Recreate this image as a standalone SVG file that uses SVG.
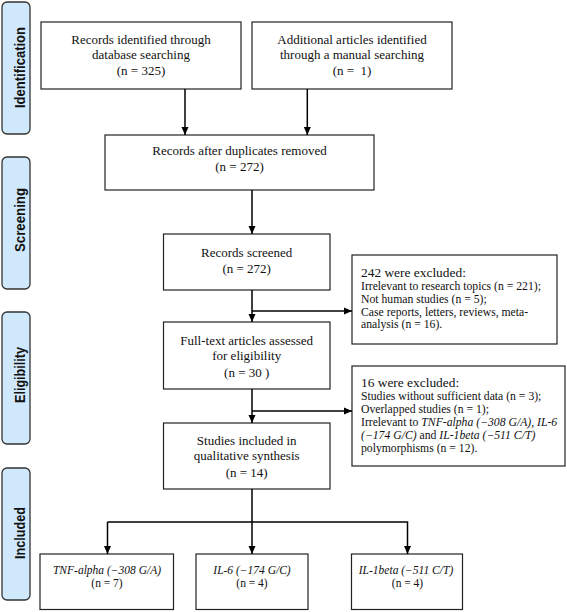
<svg xmlns="http://www.w3.org/2000/svg" width="567" height="612" viewBox="0 0 567 612">
<defs>
<marker id="ah" markerWidth="8" markerHeight="8" viewBox="0 0 8 8" refX="8" refY="4" orient="auto" markerUnits="userSpaceOnUse">
<path d="M0,0.5 L8,4 L0,7.5 Z" fill="#000"/>
</marker>
<style>
.box{fill:#fff;stroke:#222;stroke-width:1.2}
.side{fill:#cfe8fb;stroke:#333;stroke-width:1.3}
.sl{font-family:"Liberation Sans",Arial,sans-serif;font-weight:bold;font-size:15.5px;fill:#111;text-anchor:middle}
.t{font-family:"Liberation Serif","Times New Roman",serif;font-size:13px;fill:#111;text-anchor:middle}
.s{font-family:"Liberation Serif","Times New Roman",serif;font-size:11.7px;fill:#111}
.h{font-family:"Liberation Serif","Times New Roman",serif;font-size:13.4px;fill:#111}
.b{font-family:"Liberation Serif","Times New Roman",serif;font-size:11.5px;fill:#111;text-anchor:middle}
.c{fill:none;stroke:#000;stroke-width:1.5}
</style>
</defs>
<g id="stage-identification"><rect class="side" x="2" y="2" width="28" height="132" rx="5"/><text class="sl" transform="translate(24.5,67.5) rotate(-90)" textLength="81" lengthAdjust="spacingAndGlyphs">Identification</text></g>
<g id="stage-screening"><rect class="side" x="2" y="157" width="28" height="132" rx="5"/><text class="sl" transform="translate(24.5,220) rotate(-90)" textLength="64" lengthAdjust="spacingAndGlyphs">Screening</text></g>
<g id="stage-eligibility"><rect class="side" x="2" y="312" width="28" height="132" rx="5"/><text class="sl" transform="translate(24.5,375) rotate(-90)" textLength="56" lengthAdjust="spacingAndGlyphs">Eligibility</text></g>
<g id="stage-included"><rect class="side" x="2" y="468" width="28" height="132" rx="5"/><text class="sl" transform="translate(24.5,533) rotate(-90)" textLength="52" lengthAdjust="spacingAndGlyphs">Included</text></g>

<g id="n-database"><rect class="box" x="41" y="22" width="200" height="67"/>
<text class="t" x="141" y="43.5">Records identified through</text>
<text class="t" x="141" y="58.5">database searching</text>
<text class="t" x="141" y="75">(n = 325)</text></g>
<g id="n-manual"><rect class="box" x="252" y="22" width="200" height="67"/>
<text class="t" x="352" y="43.5">Additional articles identified</text>
<text class="t" x="352" y="58.5">through a manual searching</text>
<text class="t" x="352" y="75" xml:space="preserve">(n =  1)</text></g>
<g id="n-duplicates"><rect class="box" x="105" y="135" width="269" height="55"/>
<text class="t" x="239.5" y="155">Records after duplicates removed</text>
<text class="t" x="239.5" y="171">(n = 272)</text></g>
<g id="n-screened"><rect class="box" x="163.5" y="234" width="166.5" height="56"/>
<text class="t" x="246.7" y="256.5">Records screened</text>
<text class="t" x="246.7" y="273">(n = 272)</text></g>
<g id="n-excluded1"><rect class="box" x="352" y="255" width="205" height="89"/>
<text class="h" x="361" y="276.5">242 were excluded:</text>
<text class="s" x="361" y="289.5">Irrelevant to research topics (n = 221);</text>
<text class="s" x="361" y="302.5">Not human studies (n = 5);</text>
<text class="s" x="361" y="315.5">Case reports, letters, reviews, meta-</text>
<text class="s" x="361" y="328">analysis (n = 16).</text></g>
<g id="n-fulltext"><rect class="box" x="163.5" y="322" width="166.5" height="67"/>
<text class="t" x="246.7" y="344.5">Full-text articles assessed</text>
<text class="t" x="246.7" y="359.5">for eligibility</text>
<text class="t" x="246.7" y="377">(n = 30 )</text></g>
<g id="n-excluded2"><rect class="box" x="352" y="366" width="213" height="100"/>
<text class="h" x="361" y="387">16 were excluded:</text>
<text class="s" x="361" y="399.5">Studies without sufficient data (n = 3);</text>
<text class="s" x="361" y="413">Overlapped studies (n = 1);</text>
<text class="s" x="361" y="425.5">Irrelevant to <tspan font-style="italic">TNF-alpha (−308 G/A)</tspan>, <tspan font-style="italic">IL-6</tspan></text>
<text class="s" x="361" y="438.5"><tspan font-style="italic">(−174 G/C)</tspan> and <tspan font-style="italic">IL-1beta (−511 C/T)</tspan></text>
<text class="s" x="361" y="451.5">polymorphisms (n = 12).</text></g>
<g id="n-included"><rect class="box" x="163.5" y="423" width="166.5" height="66"/>
<text class="t" x="246.7" y="444.5">Studies included in</text>
<text class="t" x="246.7" y="459.5">qualitative synthesis</text>
<text class="t" x="246.7" y="476.5">(n = 14)</text></g>
<g id="n-tnf"><rect class="box" x="40" y="554" width="133.5" height="55.5"/>
<text class="b" x="107" y="574" font-style="italic">TNF-alpha (−308 G/A)</text>
<text class="b" x="107" y="587">(n = 7)</text></g>
<g id="n-il6"><rect class="box" x="196" y="554" width="112" height="55.5"/>
<text class="b" x="252" y="574" font-style="italic">IL-6 (−174 G/C)</text>
<text class="b" x="252" y="587">(n = 4)</text></g>
<g id="n-il1b"><rect class="box" x="351.5" y="554" width="111" height="55.5"/>
<text class="b" x="406" y="574" font-style="italic">IL-1beta (−511 C/T)</text>
<text class="b" x="407.5" y="587">(n = 4)</text></g>

<g id="connectors">
<path class="c" d="M185,89 V135" marker-end="url(#ah)"/>
<path class="c" d="M307.3,89 V135" marker-end="url(#ah)"/>
<path class="c" d="M252,190 V234" marker-end="url(#ah)"/>
<path class="c" d="M252,290 V322" marker-end="url(#ah)"/>
<path class="c" d="M252,311 H352" marker-end="url(#ah)"/>
<path class="c" d="M252,389 V423" marker-end="url(#ah)"/>
<path class="c" d="M252,411 H352" marker-end="url(#ah)"/>
<path class="c" d="M252,489 V554" marker-end="url(#ah)"/>
<path class="c" d="M107.5,522 H407.5 V554" marker-end="url(#ah)"/>
<path class="c" d="M107.5,522 V554" marker-end="url(#ah)"/>
</g>
</svg>
